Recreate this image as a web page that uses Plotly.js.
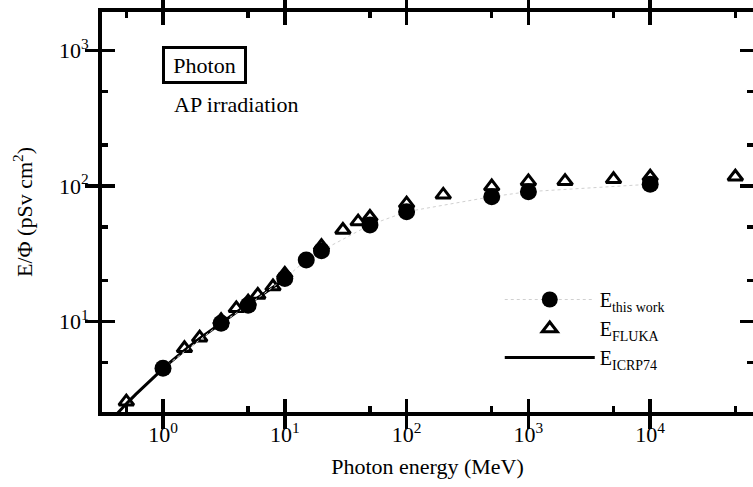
<!DOCTYPE html>
<html><head><meta charset="utf-8">
<script src="https://cdn.plot.ly/plotly-3.0.1.min.js"></script>
<style>html,body{margin:0;padding:0;background:#fff}#chart{width:753px;height:487px}</style>
</head><body><div id="chart"></div>
<script>
// E/Phi (pSv cm^2) vs photon energy (MeV), AP irradiation
const thisWorkEnergy = [1, 3, 5, 10, 15, 20, 50, 100, 500, 1000, 10000];
const thisWorkDose   = [4.52, 9.7, 13.2, 20.8, 28.4, 33.3, 51.6, 64.6, 83.4, 90.8, 103];

const flukaEnergy = [0.5, 1.5, 2, 3, 4, 5, 6, 8, 10, 20, 30, 40, 50, 100, 200, 500, 1000, 2000, 5000, 10000, 50000];
const flukaDose   = [2.56, 6.34, 7.6, 10.2, 12.5, 14.0, 15.7, 18.1, 22.4, 36, 47.3, 54.6, 59, 74, 86, 99, 108, 108.6, 112, 117, 117];

const icrpEnergy = [0.3, 0.4, 0.5, 0.511, 0.6, 0.662, 0.8, 1, 1.117, 1.33, 1.5, 2, 3, 4, 5, 6, 6.129, 8, 10];
const icrpDose   = [1.51, 2.00, 2.47, 2.52, 2.91, 3.17, 3.73, 4.49, 4.90, 5.60, 6.12, 7.48, 9.75, 11.7, 13.4, 15.0, 15.1, 17.8, 20.5];

const xTickVals = [1, 10, 100, 1000, 10000];
const xTickText = ['10<sup>0</sup>', '10<sup>1</sup>', '10<sup>2</sup>', '10<sup>3</sup>', '10<sup>4</sup>'];
const xMinorVals = [0.5, 5, 50, 500, 5000, 50000];
const yTickVals = [10, 100, 1000];
const yTickText = ['10<sup>1</sup>', '10<sup>2</sup>', '10<sup>3</sup>'];
const yMinorVals = [5, 20, 50, 200, 500, 2000];

const FONT = 'Liberation Serif, Times New Roman, serif';
const X_RANGE = [-0.5008, 4.844];
const Y_RANGE = [0.332, 3.284];

const traces = [
  {
    x: icrpEnergy, y: icrpDose, type: 'scatter', mode: 'lines',
    name: 'E<sub>ICRP74</sub>', legendrank: 3,
    line: {color: '#000', width: 3}
  },
  {
    x: flukaEnergy, y: flukaDose, type: 'scatter', mode: 'markers',
    name: 'E<sub>FLUKA</sub>', legendrank: 2,
    marker: {symbol: 'triangle-up-open', size: 13, color: '#000', line: {width: 3, color: '#000'}}
  },
  {
    x: thisWorkEnergy, y: thisWorkDose, type: 'scatter', mode: 'lines+markers',
    name: 'E<sub>this work</sub>', legendrank: 1,
    line: {color: '#d0d0d0', width: 1, dash: 'dot'},
    marker: {symbol: 'circle', size: 17, color: '#000'}
  },
  // empty helper traces so the minor-tick overlay axes are drawn
  {x: [], y: [], xaxis: 'x2', yaxis: 'y', type: 'scatter', mode: 'markers', showlegend: false, hoverinfo: 'skip'},
  {x: [], y: [], xaxis: 'x', yaxis: 'y2', type: 'scatter', mode: 'markers', showlegend: false, hoverinfo: 'skip'}
];

const axisCommon = {
  type: 'log',
  showline: true, linewidth: 4, linecolor: '#000', mirror: 'allticks',
  ticks: 'inside', ticklen: 13, tickwidth: 3.5, tickcolor: '#000',
  showgrid: false, zeroline: false,
  tickfont: {family: FONT, size: 22, color: '#000'},
  tickmode: 'array'
};
const minorCommon = {
  type: 'log', tickmode: 'array',
  showline: false, mirror: 'ticks', showticklabels: false,
  ticks: 'inside', ticklen: 6, tickwidth: 3.5, tickcolor: '#000',
  showgrid: false, zeroline: false, fixedrange: true
};

const layout = {
  width: 753, height: 487,
  margin: {l: 102, r: 0, t: 12, b: 75},
  paper_bgcolor: '#fff', plot_bgcolor: '#fff',
  font: {family: FONT, size: 22, color: '#000'},
  showlegend: true,
  legend: {
    x: 0.611, y: 0.33, xanchor: 'left', yanchor: 'top',
    bgcolor: 'rgba(0,0,0,0)', borderwidth: 0, itemwidth: 90,
    font: {family: FONT, size: 20, color: '#000'},
    tracegroupgap: 0
  },
  xaxis: Object.assign({}, axisCommon, {
    range: X_RANGE,
    tickvals: xTickVals, ticktext: xTickText,
    title: {text: 'Photon energy (MeV)', font: {family: FONT, size: 22, color: '#000'}, standoff: 13}
  }),
  yaxis: Object.assign({}, axisCommon, {
    range: Y_RANGE,
    tickvals: yTickVals, ticktext: yTickText, ticklabelstandoff: 5,
    title: {text: 'E/Φ (pSv cm<sup>2</sup>)', font: {family: FONT, size: 22, color: '#000'}, standoff: 21}
  }),
  xaxis2: Object.assign({}, minorCommon, {
    overlaying: 'x', anchor: 'y', side: 'bottom', range: X_RANGE, tickvals: xMinorVals
  }),
  yaxis2: Object.assign({}, minorCommon, {
    overlaying: 'y', anchor: 'x', side: 'left', range: Y_RANGE, tickvals: yMinorVals
  }),
  annotations: [
    {
      xref: 'paper', yref: 'paper', x: 0.158, y: 0.868, xanchor: 'center', yanchor: 'middle',
      text: 'Photon', showarrow: false, font: {family: FONT, size: 22, color: '#000'},
      bordercolor: '#000', borderwidth: 3, borderpad: 0, width: 79, height: 32
    },
    {
      xref: 'paper', yref: 'paper', x: 0.108, y: 0.769, xanchor: 'left', yanchor: 'middle',
      text: 'AP irradiation', showarrow: false, font: {family: FONT, size: 22, color: '#000'}
    }
  ]
};

Plotly.newPlot('chart', traces, layout, {displayModeBar: false, staticPlot: true});
</script></body></html>
